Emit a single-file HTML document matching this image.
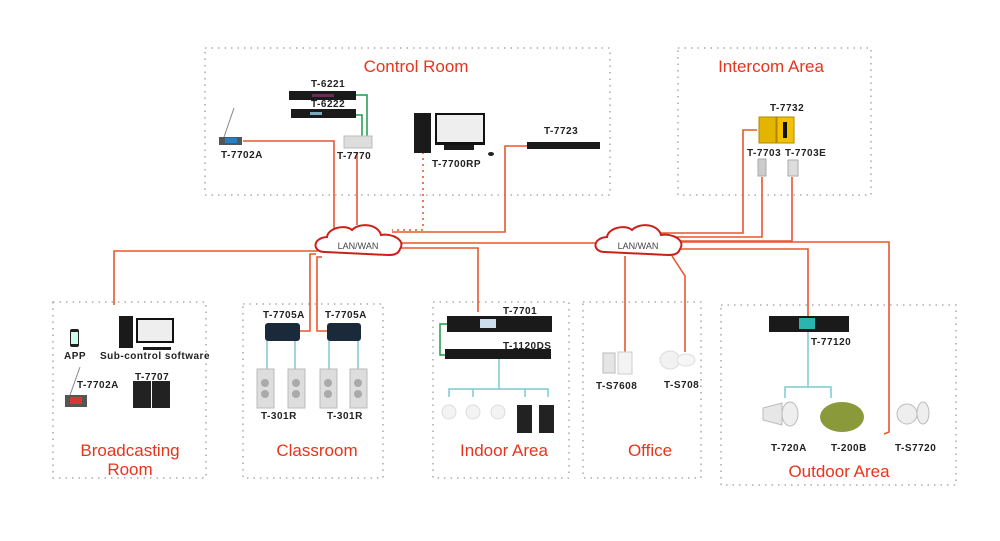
<!DOCTYPE html>
<html><head><meta charset="utf-8"><style>
html,body{margin:0;padding:0;background:#fff;}
svg{display:block;}
.lb{font-family:"Liberation Sans",sans-serif;font-weight:bold;font-size:10px;fill:#222;letter-spacing:0.5px}
.tt{font-family:"Liberation Sans",sans-serif;font-size:17px;fill:#e8341c}
.box{fill:none;stroke:#9a9a9a;stroke-width:1.3;stroke-dasharray:1.5,5}
.ln{fill:none;stroke:#e8572f;stroke-width:1.6}
.bl{fill:none;stroke:#7cc8d4;stroke-width:1.5}
.gr{fill:none;stroke:#1d9a4a;stroke-width:1.5}
.dev{fill:#1a1a1a}
</style></head><body>
<svg width="1000" height="541" viewBox="0 0 1000 541" xmlns="http://www.w3.org/2000/svg">
<!-- boxes -->
<rect class="box" x="205" y="48" width="405" height="147"/>
<rect class="box" x="678" y="48" width="193" height="147"/>
<rect class="box" x="53" y="302" width="153" height="176"/>
<rect class="box" x="243" y="304" width="140" height="174"/>
<rect class="box" x="433" y="302" width="136" height="176"/>
<rect class="box" x="583" y="302" width="118" height="176"/>
<rect class="box" x="721" y="305" width="235" height="180"/>
<!-- titles -->
<text class="tt" x="416" y="72" text-anchor="middle">Control Room</text>
<text class="tt" x="771" y="72" text-anchor="middle">Intercom Area</text>
<text class="tt" x="130" y="456" text-anchor="middle">Broadcasting</text>
<text class="tt" x="130" y="475" text-anchor="middle">Room</text>
<text class="tt" x="317" y="456" text-anchor="middle">Classroom</text>
<text class="tt" x="504" y="456" text-anchor="middle">Indoor Area</text>
<text class="tt" x="650" y="456" text-anchor="middle">Office</text>
<text class="tt" x="839" y="477" text-anchor="middle">Outdoor Area</text>
<!-- orange lines -->
<polyline class="ln" points="243,141 334,141 334,232"/>
<polyline class="ln" points="357,152 357,225"/>
<polyline class="ln" points="392,232 505,232 505,146 527,146" stroke-dasharray="0"/>
<line x1="400" y1="243" x2="600" y2="243" class="ln"/>
<polyline class="ln" points="318,251 114,251 114,305"/>
<polyline class="ln" points="316,254 310,254 310,331 300,331"/>
<polyline class="ln" points="322,257 317,257 317,331 327,331"/>
<polyline class="ln" points="398,248 478,248 478,312"/>
<polyline class="ln" points="425,148 423,148 423,230 392,230" stroke-dasharray="2,4" stroke="#e8572f"/>
<polyline class="ln" points="645,233 743,233 743,130 757,130"/>
<polyline class="ln" points="650,237 762,237 762,177"/>
<polyline class="ln" points="655,241 792,241 792,177"/>
<polyline class="ln" points="678,242 889,242 889,432 884,434"/>
<polyline class="ln" points="680,249 808,249 808,316"/>
<polyline class="ln" points="625,256 625,352"/>
<polyline class="ln" points="672,256 685,276 685,352"/>
<!-- clouds -->
<g id="c1">
<path d="M325,252 C312,252 312,238 327,237 C328,228 345,224 352,230 C360,222 378,224 381,235 C392,233 406,240 400,249 C398,255 392,255 388,255 Z" fill="#fff" stroke="#c9221b" stroke-width="2"/>
<text x="358" y="249" text-anchor="middle" font-family="Liberation Sans,sans-serif" font-size="9" fill="#444">LAN/WAN</text>
</g>
<path d="M605,252 C592,252 592,238 607,237 C608,228 625,224 632,230 C640,222 658,224 661,235 C672,233 686,240 680,249 C678,255 672,255 668,255 Z" fill="#fff" stroke="#c9221b" stroke-width="2"/>
<text x="638" y="249" text-anchor="middle" font-family="Liberation Sans,sans-serif" font-size="9" fill="#444">LAN/WAN</text>
<!-- Control room devices -->
<line x1="223" y1="140" x2="234" y2="108" stroke="#888" stroke-width="1"/>
<rect x="219" y="137" width="23" height="8" fill="#555"/>
<rect x="225" y="138" width="12" height="5" fill="#2a7fc0"/>
<text class="lb" x="221" y="158">T-7702A</text>
<text class="lb" x="311" y="87">T-6221</text>
<rect x="289" y="91" width="67" height="9" class="dev"/>
<rect x="312" y="94" width="22" height="3" fill="#6a2a5a"/>
<text class="lb" x="311" y="107">T-6222</text>
<rect x="291" y="109" width="65" height="9" class="dev"/>
<rect x="310" y="112" width="12" height="3" fill="#7ab"/>
<polyline class="gr" points="356,95 367,95 367,146"/>
<polyline class="gr" points="356,115 362,115 362,146"/>
<rect x="344" y="136" width="28" height="12" fill="#ddd" stroke="#bbb"/>
<text class="lb" x="337" y="159">T-7770</text>
<rect x="414" y="113" width="17" height="40" class="dev"/>
<rect x="435" y="113" width="50" height="32" fill="#111"/>
<rect x="437" y="115" width="46" height="27" fill="#eee"/>
<rect x="444" y="145" width="30" height="5" class="dev"/>
<ellipse cx="491" cy="154" rx="3" ry="2" fill="#222"/>
<text class="lb" x="432" y="167">T-7700RP</text>
<text class="lb" x="544" y="134">T-7723</text>
<rect x="527" y="142" width="73" height="7" class="dev"/>
<!-- intercom -->
<text class="lb" x="770" y="111">T-7732</text>
<rect x="759" y="117" width="17" height="26" fill="#e3b500" stroke="#b08800"/>
<rect x="777" y="117" width="17" height="26" fill="#f2c200" stroke="#b08800"/>
<rect x="783" y="122" width="4" height="16" fill="#111"/>
<text class="lb" x="747" y="156">T-7703</text>
<text class="lb" x="785" y="156">T-7703E</text>
<rect x="758" y="159" width="8" height="17" fill="#ccc" stroke="#aaa"/>
<rect x="788" y="160" width="10" height="16" fill="#ddd" stroke="#aaa"/>
<!-- broadcasting -->
<rect x="70" y="329" width="9" height="18" rx="2" fill="#222"/>
<rect x="71" y="332" width="7" height="12" fill="#cfe"/>
<text class="lb" x="64" y="359">APP</text>
<rect x="119" y="316" width="14" height="32" class="dev"/>
<rect x="136" y="318" width="38" height="25" fill="#111"/>
<rect x="138" y="320" width="34" height="21" fill="#eee"/>
<rect x="143" y="347" width="28" height="3" class="dev"/>
<text class="lb" x="100" y="359">Sub-control software</text>
<line x1="70" y1="395" x2="80" y2="367" stroke="#888"/>
<rect x="65" y="395" width="22" height="12" fill="#555"/>
<rect x="70" y="397" width="12" height="7" fill="#d33"/>
<text class="lb" x="77" y="388">T-7702A</text>
<text class="lb" x="135" y="380">T-7707</text>
<rect x="133" y="381" width="18" height="27" fill="#222"/>
<rect x="152" y="381" width="18" height="27" fill="#222"/>
<!-- classroom -->
<text class="lb" x="263" y="318">T-7705A</text>
<text class="lb" x="325" y="318">T-7705A</text>
<rect x="265" y="323" width="35" height="18" rx="3" fill="#1b2a3a"/>
<rect x="327" y="323" width="34" height="18" rx="3" fill="#1b2a3a"/>
<line class="bl" x1="267" y1="341" x2="267" y2="369"/>
<line class="bl" x1="295" y1="341" x2="295" y2="369"/>
<line class="bl" x1="329" y1="341" x2="329" y2="369"/>
<line class="bl" x1="358" y1="341" x2="358" y2="369"/>
<g fill="#ddd" stroke="#bbb">
<rect x="257" y="369" width="17" height="39"/><rect x="288" y="369" width="17" height="39"/>
<rect x="320" y="369" width="17" height="39"/><rect x="350" y="369" width="17" height="39"/>
</g>
<g fill="#aaa"><circle cx="265" cy="383" r="4"/><circle cx="265" cy="394" r="4"/><circle cx="296" cy="383" r="4"/><circle cx="296" cy="394" r="4"/><circle cx="328" cy="383" r="4"/><circle cx="328" cy="394" r="4"/><circle cx="358" cy="383" r="4"/><circle cx="358" cy="394" r="4"/></g>
<text class="lb" x="261" y="419">T-301R</text>
<text class="lb" x="327" y="419">T-301R</text>
<!-- indoor -->
<text class="lb" x="503" y="314">T-7701</text>
<rect x="447" y="316" width="105" height="16" class="dev"/>
<rect x="480" y="319" width="16" height="9" fill="#cde"/>
<text class="lb" x="503" y="349">T-1120DS</text>
<rect x="445" y="349" width="106" height="10" class="dev"/>
<polyline class="gr" points="447,324 440,324 440,355 445,355"/>
<line class="bl" x1="499" y1="359" x2="499" y2="389"/>
<polyline class="bl" points="449,397 449,389 548,389 548,397"/>
<line class="bl" x1="473" y1="389" x2="473" y2="397"/>
<line class="bl" x1="525" y1="389" x2="525" y2="397"/>
<g fill="#f3f3f3" stroke="#ddd"><circle cx="449" cy="412" r="7"/><circle cx="473" cy="412" r="7"/><circle cx="498" cy="412" r="7"/></g>
<rect x="517" y="405" width="15" height="28" fill="#222"/>
<rect x="539" y="405" width="15" height="28" fill="#222"/>
<!-- office -->
<rect x="603" y="353" width="12" height="20" fill="#e5e5e5" stroke="#bbb"/>
<rect x="618" y="352" width="14" height="22" fill="#f3f3f3" stroke="#ccc"/>
<text class="lb" x="596" y="389">T-S7608</text>
<ellipse cx="670" cy="360" rx="10" ry="9" fill="#f1f1f1" stroke="#ddd"/>
<ellipse cx="686" cy="360" rx="9" ry="6" fill="#f6f6f6" stroke="#ddd"/>
<text class="lb" x="664" y="388">T-S708</text>
<!-- outdoor -->
<rect x="769" y="316" width="80" height="16" class="dev"/>
<rect x="799" y="318" width="16" height="11" fill="#2bb5b0"/>
<text class="lb" x="811" y="345">T-77120</text>
<line class="bl" x1="808" y1="332" x2="808" y2="387"/>
<polyline class="bl" points="785,398 785,387 831,387 831,398"/>
<path d="M763,408 L782,403 L782,425 L763,420 Z" fill="#e7e7e7" stroke="#bbb"/>
<ellipse cx="790" cy="414" rx="8" ry="12" fill="#eee" stroke="#bbb"/>
<ellipse cx="842" cy="417" rx="22" ry="15" fill="#8a9a3a"/>
<text class="lb" x="771" y="451">T-720A</text>
<text class="lb" x="831" y="451">T-200B</text>
<circle cx="907" cy="414" r="10" fill="#eee" stroke="#bbb"/>
<ellipse cx="923" cy="413" rx="6" ry="11" fill="#eee" stroke="#bbb"/>
<text class="lb" x="895" y="451">T-S7720</text>
</svg>
</body></html>
